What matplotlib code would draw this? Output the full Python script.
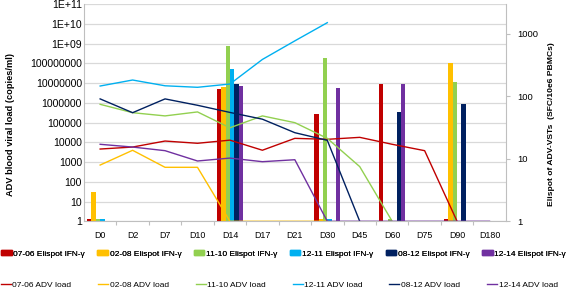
import numpy as np
import matplotlib
matplotlib.use('Agg')
from matplotlib import pyplot as plt
from matplotlib import patches
from matplotlib import lines
from matplotlib import ticker

plt.rcParams['font.family'] = ['Liberation Sans', 'DejaVu Sans']

days = ['D0', 'D2', 'D7', 'D10', 'D14', 'D17', 'D21', 'D30', 'D45', 'D60',
        'D75', 'D90', 'D180']
patients = ['07-06', '02-08', '11-10', '12-11', '08-12', '12-14']
colors = ['#C00000', '#FFC000', '#92D050', '#00B0F0', '#002060', '#7030A0']

nan = np.nan
# Elispot IFN-gamma (SFC/10e6 PBMCs), right axis
elispot_0706 = [1.09, nan, nan, nan, 130, nan, nan, 52, nan, 156, nan, 1.09, nan]
elispot_0208 = [2.95, nan, nan, nan, 140, nan, nan, 1.1, nan, nan, nan, 344, nan]
elispot_1110 = [1.09, nan, nan, nan, 643, nan, nan, 408, nan, 1.1, nan, 170, nan]
elispot_1211 = [1.09, nan, nan, nan, 270, nan, nan, 1.1, nan, nan, nan, nan, nan]
elispot_0812 = [nan, nan, nan, nan, 158, nan, nan, nan, nan, 57, nan, 77, nan]
elispot_1214 = [nan, nan, nan, nan, 147, nan, nan, 137, nan, 158, nan, nan, nan]

# ADV blood viral load (copies/ml), left axis
load_0706 = [4600, 5800, 11700, 9000, 13000, 4000, 16000, 14300, 18000, 8000,
             3800, 1, nan]
load_0208 = [710, 3970, 545, 545, 1, 1, 1, 1, nan, nan, nan, nan, nan]
load_1110 = [8.5e5, 3.2e5, 2.2e5, 3.5e5, 5.5e4, 2.2e5, 1.0e5, 1.6e4, 590, 1,
             nan, nan, nan]
load_1211 = [7.2e6, 1.45e7, 7.4e6, 6.2e6, 9.1e6, 1.6e8, 1.4e9, 1.17e10, nan,
             nan, nan, nan, nan]
load_0812 = [1.6e6, 3.2e5, 1.6e6, 7.6e5, 3.3e5, 1.5e5, 3.1e4, 1.27e4, 1, nan,
             nan, nan, nan]
load_1214 = [8000, 5800, 3800, 1140, 1600, 1050, 1320, 1, 1, 1, 1, 1, 1]

elispot = [elispot_0706, elispot_0208, elispot_1110, elispot_1211,
           elispot_0812, elispot_1214]
loads = [load_0706, load_0208, load_1110, load_1211, load_0812, load_1214]

GRID = '#D9D9D9'
AXIS = '#BFBFBF'
POS = [0.148, 0.2473, 0.744, 0.7381]


def main():
  fig = plt.figure(figsize=(5.67, 2.94), dpi=100)
  x = np.arange(len(days))
  decades = [10.0 ** k for k in range(12)]

  # grid sits underneath the bars, the lines sit on top of them
  gax = fig.add_axes(POS, zorder=0)
  gax.set_yscale('log')
  gax.set_ylim(1, 1e11)
  gax.set_xlim(-0.5, len(days) - 0.5)
  gax.yaxis.set_major_locator(ticker.FixedLocator(decades))
  gax.yaxis.set_minor_locator(ticker.NullLocator())
  gax.grid(axis='y', color=GRID, lw=0.9)
  gax.set_xticks([])
  gax.tick_params(axis='y', length=0, labelleft=False)
  for side in gax.spines:
    gax.spines[side].set_visible(False)

  ax2 = fig.add_axes(POS, zorder=1)
  ax2.patch.set_visible(False)
  width = 0.135
  for k, (vals, color) in enumerate(zip(elispot, colors)):
    vals = np.array(vals)
    ax2.bar(x + (k - 2.5) * width, vals - 1, bottom=1, width=width,
            color=color, edgecolor='none')
  ax2.set_yscale('log')
  ax2.set_ylim(1, 2990)
  ax2.set_xlim(-0.5, len(days) - 0.5)
  ax2.yaxis.tick_right()
  ax2.yaxis.set_label_position('right')
  ax2.yaxis.set_major_locator(ticker.FixedLocator([1, 10, 100, 1000]))
  ax2.yaxis.set_minor_locator(ticker.NullLocator())
  ax2.set_yticklabels(['1', '10', '100', '1000'], fontsize=6.8)
  ax2.tick_params(axis='y', length=3, color=AXIS, width=0.8, pad=5)
  ax2.set_xticks([])
  for side in ('top', 'left', 'bottom'):
    ax2.spines[side].set_visible(False)
  ax2.spines['right'].set_color(AXIS)
  ax2.spines['right'].set_linewidth(0.8)
  ax2.set_ylabel('Elispot of ADV-VSTs  (SFC/10e6 PBMCs)', fontsize=6.1,
                 fontweight='bold')
  ax2.yaxis.set_label_coords(1.0995, 0.448)

  ax = fig.add_axes(POS, zorder=2)
  ax.patch.set_visible(False)
  for vals, color in zip(loads, colors):
    ax.plot(x, vals, color=color, lw=1.0)
  ax.set_yscale('log')
  ax.set_ylim(1, 1e11)
  ax.set_xlim(-0.5, len(days) - 0.5)
  ax.yaxis.set_major_locator(ticker.FixedLocator(decades))
  ax.yaxis.set_minor_locator(ticker.NullLocator())
  ax.set_yticklabels([str(int(d)) if d < 1e9 else '1E+%02d' % int(np.log10(d))
                      for d in decades], fontsize=7.6)
  ax.tick_params(axis='y', length=0, pad=1.5)
  ax.set_xticks(x)
  ax.set_xticklabels(days, fontsize=6.4)
  ax.set_xticks(x[:-1] + 0.5, minor=True)
  ax.tick_params(axis='x', which='major', length=0, pad=7)
  ax.tick_params(axis='x', which='minor', length=3, color=AXIS, width=0.8)
  for side in ('top', 'right'):
    ax.spines[side].set_visible(False)
  for side in ('left', 'bottom'):
    ax.spines[side].set_color(AXIS)
    ax.spines[side].set_linewidth(0.8)
  ax.set_ylabel('ADV blood viral load (copies/ml)', fontsize=6.7,
                fontweight='bold')
  ax.yaxis.set_label_coords(-0.1635, 0.444)

  bar_handles = [patches.Rectangle((0, 0), 1, 1, color=c) for c in colors]
  line_handles = [lines.Line2D([], [], color=c, lw=1.0) for c in colors]
  leg1 = fig.legend(bar_handles, [p + ' Elispot IFN-γ' for p in patients],
                    loc='center', bbox_to_anchor=(0.0, 0.106, 1.0, 0.06),
                    mode='expand', ncol=6, frameon=False, fontsize=6.0,
                    handlelength=1.3, handleheight=0.55, handletextpad=0.2,
                    borderaxespad=0, borderpad=0.1)
  fig.add_artist(leg1)
  fig.legend(line_handles, [p + ' ADV load' for p in patients],
             loc='center', bbox_to_anchor=(0.0, 0.0, 0.985, 0.06),
             mode='expand', ncol=6, frameon=False, fontsize=6.0,
             handlelength=1.2, handletextpad=0.2, borderaxespad=0,
             borderpad=0.1)
  fig.savefig('out.png', dpi=100)


if __name__ == '__main__':
  main()
